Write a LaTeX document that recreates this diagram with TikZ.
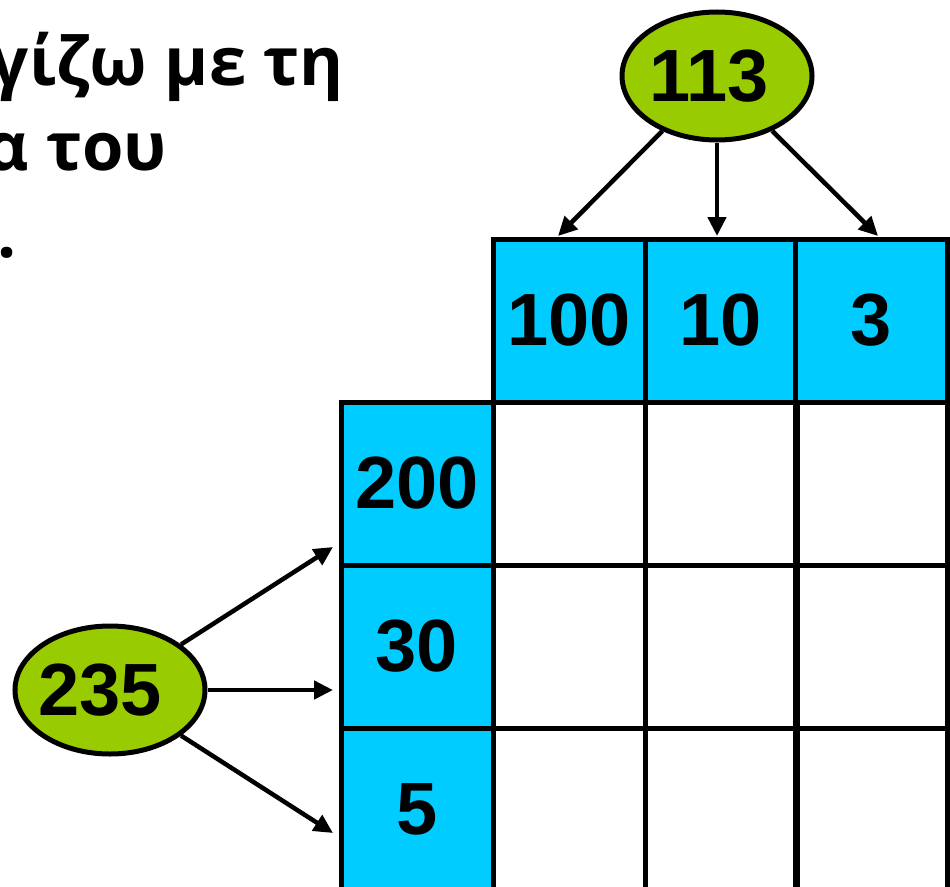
\documentclass[tikz,border=0pt]{standalone}
\usepackage{fontspec}
\setmainfont{Liberation Sans}
\newfontfamily\greekfont{Open Sans}
\usetikzlibrary{shapes.geometric,arrows.meta}
\definecolor{cellblue}{HTML}{00CCFF}
\definecolor{leafgreen}{HTML}{99CC00}
\tikzset{
    num/.style={font=\fontsize{74}{80}\selectfont\bfseries},
    cell/.style={draw,line width=5pt,minimum width=152pt,minimum height=163pt,inner sep=0pt,num},
    part/.style={cell,fill=cellblue},
    factor/.style={draw,ellipse,line width=5pt,fill=leafgreen,minimum width=190pt,minimum height=128pt,inner sep=0pt,num},
    arr/.style={line width=4.5pt,-{Triangle[length=19pt,width=18pt]}},
    words/.style={anchor=base east,inner sep=0pt,font=\greekfont\fontsize{67}{85}\selectfont\bfseries}
}
\begin{document}
\begin{tikzpicture}[x=1pt,y=-1pt]
                \useasboundingbox (0, 0) rectangle (950, 886);

                \node[words] (L1) at (344, 85) {γίζω με τη};
                \node[words] (L2) at (167, 170) {α του};
                \node[words] (L3) at (17, 257) {.};

                % empty product cells
                \node[cell] (C11) at (569, 483.5) {};
                \node[cell] (C12) at (721, 483.5) {};
                \node[cell] (C13) at (871, 483.5) {};
                \node[cell] (C21) at (569, 646.5) {};
                \node[cell] (C22) at (721, 646.5) {};
                \node[cell] (C23) at (871, 646.5) {};
                \node[cell] (C31) at (569, 809.5) {};
                \node[cell] (C32) at (721, 809.5) {};
                \node[cell] (C33) at (871, 809.5) {};

                % parts of 113
                \node[part] (H1) at (569, 320.5) {100};
                \node[part] (H2) at (721, 320.5) {10};
                \node[part] (H3) at (871, 320.5) {3};

                % parts of 235
                \node[part] (V1) at (417, 483.5) {200};
                \node[part] (V2) at (417, 646.5) {30};
                \node[part] (V3) at (417, 809.5) {5};

                \node[factor] (T) at (717, 76) {\hspace*{-16pt}113};
                \node[factor] (S) at (110, 690) {\hspace*{-20pt}235};

                \coordinate (A1) at (558, 236);
                \coordinate (A2) at (717, 236);
                \coordinate (A3) at (878, 236);
                \coordinate (B1) at (333, 547);
                \coordinate (B2) at (333, 690);
                \coordinate (B3) at (333, 833);

                \draw[arr] (T) -- (A1);
                \draw[arr] (T) -- (A2);
                \draw[arr] (T) -- (A3);

                \draw[arr] (S) -- (B1);
                \draw[arr] (S) -- (B2);
                \draw[arr] (S) -- (B3);
\end{tikzpicture}
\end{document}
